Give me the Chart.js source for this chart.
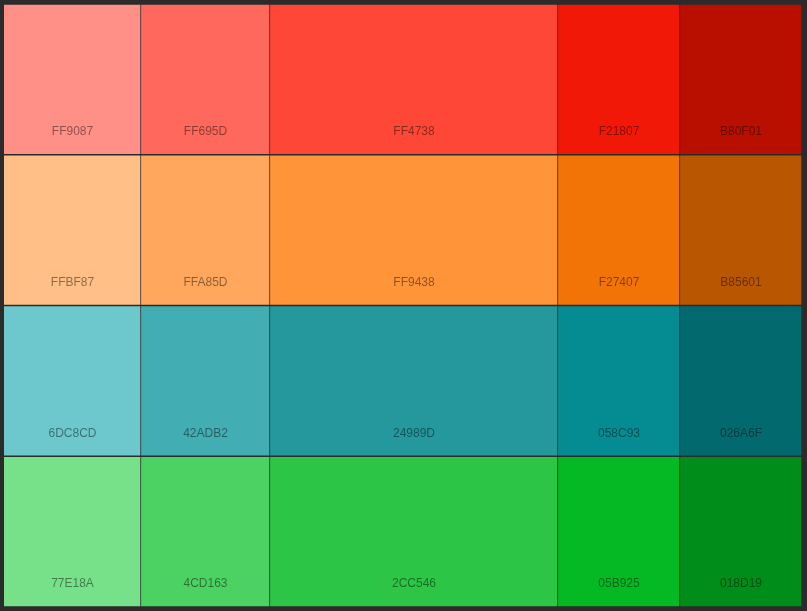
<!DOCTYPE html>
<html><head><meta charset="utf-8">
<script src="https://cdn.jsdelivr.net/npm/chart.js@4"></script>
<style>html,body{margin:0;background:#2b2b2b;}#w{width:807px;height:611px;}</style>
</head><body><div id="w"><canvas id="c"></canvas></div>
<script>
const rows = ['Red','Orange','Teal','Green'];
const columnWidths = [137, 129, 288, 122, 122];
const colors = [
  ['FF9087','FF695D','FF4738','F21807','B80F01'],
  ['FFBF87','FFA85D','FF9438','F27407','B85601'],
  ['6DC8CD','42ADB2','24989D','058C93','026A6F'],
  ['77E18A','4CD163','2CC546','05B925','018D19']
];
const datasets = columnWidths.map((w, ci) => ({
  data: rows.map(() => w),
  backgroundColor: colors.map(r => '#' + r[ci]),
  borderColor: '#2b2b2b', borderWidth: 1,
  barPercentage: 1, categoryPercentage: 1,
  labels: colors.map(r => r[ci])
}));
const labelPlugin = {
  id: 'lbl',
  afterDatasetsDraw(chart) {
    const ctx = chart.ctx;
    ctx.save();
    ctx.font = '12px "Liberation Sans", Arial, sans-serif';
    ctx.textAlign = 'center'; ctx.textBaseline = 'middle';
    ctx.fillStyle = 'rgba(0,0,0,0.45)';
    chart.data.datasets.forEach((ds, di) => {
      chart.getDatasetMeta(di).data.forEach((bar, ri) => {
        const p = bar.getProps(['x','y','base','height'], true);
        const cx = (p.x + p.base) / 2;
        const bottom = p.y + p.height / 2;
        ctx.fillText(ds.labels[ri], cx, bottom - 23);
      });
    });
    ctx.restore();
  }
};
new Chart(document.getElementById('c'), {
  type: 'bar',
  data: { labels: rows, datasets },
  options: {
    indexAxis: 'y', responsive: true, maintainAspectRatio: false, animation: false,
    layout: { padding: { left: 4, right: 5, top: 4, bottom: 4 } },
    plugins: { legend: { display: false }, tooltip: { enabled: false } },
    scales: {
      x: { stacked: true, display: false, min: 0, max: 798 },
      y: { stacked: true, display: false }
    }
  },
  plugins: [labelPlugin]
});
</script></body></html>
